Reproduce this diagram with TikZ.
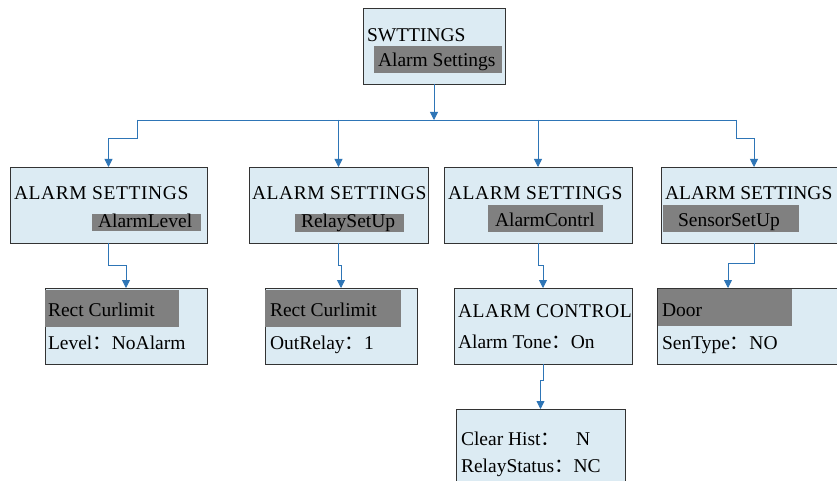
\documentclass[tikz,border=0pt]{standalone}
\usepackage{fontspec}
\setmainfont{Liberation Serif}
\newfontfamily\widefont{Liberation Serif}[LetterSpace=3]
\newfontfamily\cjk{Noto Sans CJK SC}
\usetikzlibrary{arrows.meta, positioning}
\definecolor{boxblue}{RGB}{220,235,243}
\definecolor{hlgray}{RGB}{128,128,128}
\definecolor{linkblue}{RGB}{46,117,182}
\newcommand{\fcolon}{{\cjk ：}}

\begin{document}
\begin{tikzpicture}[% styles used in image code
        x = 1pt, y = -1pt,
         > = {Triangle[width=8pt,length=8pt]},
box/.style = {draw=black!80, line width=0.7pt, fill=boxblue,
              inner sep=0pt, outer sep=0pt},
txt/.style = {anchor=base west, inner sep=0pt, outer sep=0pt,
              font=\fontsize{19.5}{22}\selectfont},
 hl/.style = {fill=hlgray},
link/.style = {draw=linkblue, line width=0.8pt}
                        ]
	\clip (0,0) rectangle (837,481);
	\fill[white] (0,0) rectangle (837,481);

	% boxes
	\node[box, minimum width=142, minimum height=76] (top) at (434,46) {};
	\node[box, minimum width=197, minimum height=76] (a1) at (108.5,205) {};
	\node[box, minimum width=179, minimum height=76] (a2) at (338.5,205) {};
	\node[box, minimum width=188, minimum height=76] (a3) at (538,205) {};
	\node[box, minimum width=186, minimum height=76] (a4) at (754,205) {};
	\node[box, minimum width=162, minimum height=76] (b1) at (126,326) {};
	\node[box, minimum width=152, minimum height=76] (b2) at (341,326) {};
	\node[box, minimum width=178, minimum height=76] (b3) at (543,326) {};
	\node[box, minimum width=193, minimum height=76] (b4) at (753.5,326) {};
	\node[box, minimum width=169, minimum height=86] (c3) at (540.5,452) {};

	% grey highlights
	\fill[hl] (374,46) rectangle (502,73);
	\fill[hl] (92,214) rectangle (201,231);
	\fill[hl] (295,214) rectangle (404,232);
	\fill[hl] (488,205) rectangle (603,232);
	\fill[hl] (663,205) rectangle (799,232);
	\fill[hl] (45,290) rectangle (179,327);
	\fill[hl] (265,290) rectangle (401,327);
	\fill[hl] (658,289) rectangle (792,326);

	% texts
	\node[txt] (topA) at (367,42) {SWTTINGS};
	\node[txt] (topB) at (378,67) {Alarm Settings};
	\node[txt] (a1A) at (14,200) {\widefont ALARM SETTINGS};
	\node[txt] (a1B) at (98,227) {AlarmLevel};
	\node[txt] (a2A) at (252,200) {\widefont ALARM SETTINGS};
	\node[txt] (a2B) at (301,227) {RelaySetUp};
	\node[txt] (a3A) at (448,200) {\widefont ALARM SETTINGS};
	\node[txt] (a3B) at (495,226) {AlarmContrl};
	\node[txt] (a4A) at (665,200) {ALARM SETTINGS};
	\node[txt] (a4B) at (678,226) {SensorSetUp};
	\node[txt] (b1A) at (48,316) {Rect Curlimit};
	\node[txt] (b1B) at (48,349) {Level\fcolon NoAlarm};
	\node[txt] (b2A) at (270,316) {Rect Curlimit};
	\node[txt] (b2B) at (270,349) {OutRelay\fcolon 1};
	\node[txt] (b3A) at (458,317) {\widefont ALARM CONTROL};
	\node[txt] (b3B) at (458,348) {Alarm Tone\fcolon On};
	\node[txt] (b4A) at (662,316) {Door};
	\node[txt] (b4B) at (662,349) {SenType\fcolon NO};
	\node[txt] (c3A) at (461,445) {Clear Hist\fcolon\hspace{16pt}N};
	\node[txt] (c3B) at (461,472) {RelayStatus\fcolon NC};

	% connectors
	\coordinate (busL) at (137,120);
	\coordinate (busR) at (736,120);
	\draw[link,->] (top.south) -- (top.south |- busL);
	\draw[link] (busL) -- (busR);
	\draw[link,->] (busL) -- ++(0,18) -| (a1.north);
	\draw[link,->] (a2.north |- busL) -- (a2.north);
	\draw[link,->] (a3.north |- busL) -- (a3.north);
	\draw[link,->] (busR) -- ++(0,18) -| (a4.north);
	\draw[link,->] (a1.south) -- ++(0,22) -| (b1.north);
	\draw[link,->] (a2.south) -- ++(0,22) -| (b2.north);
	\draw[link,->] (a3.south) -- ++(0,22) -| (b3.north);
	\draw[link,->] (a4.south) -- ++(0,20) -| ([xshift=71pt]b4.north west);
	\draw[link,->] (b3.south) -- ++(0,16) -| (c3.north);
\end{tikzpicture}
\end{document}
